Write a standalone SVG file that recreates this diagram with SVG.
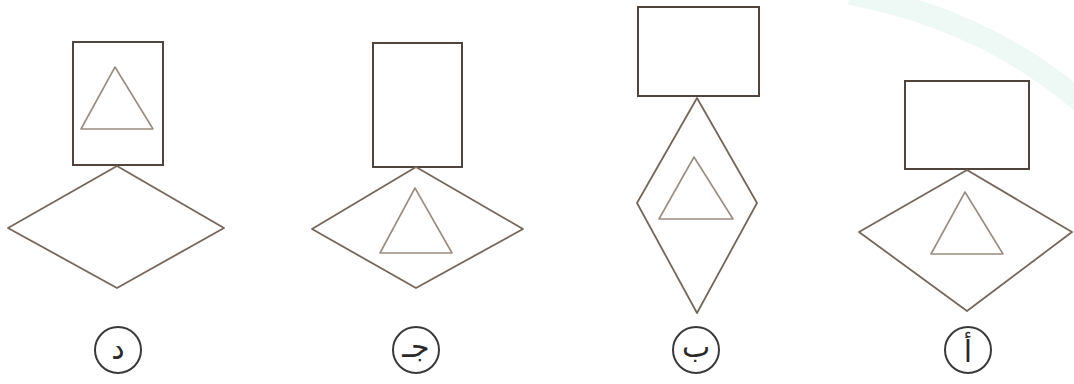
<svg xmlns="http://www.w3.org/2000/svg" width="1074" height="384" viewBox="0 0 1074 384">
<style>
.rect{fill:none;stroke:#4f453c;stroke-width:2}
.dia{fill:none;stroke:#75675a;stroke-width:1.8;stroke-linejoin:round}
.tri{fill:none;stroke:#9a8c7e;stroke-width:1.6;stroke-linejoin:round}
.lab circle{fill:none;stroke:#3a3a3a;stroke-width:2}
.lab text{font-family:"DejaVu Sans",sans-serif;font-size:30px;fill:#2a2a2a;text-anchor:middle}
.wm{fill:none;stroke:#eef8f4;stroke-width:22}
</style>
<rect width="1074" height="384" fill="#ffffff"/>
<path class="wm" d="M850,-6 Q990,20 1090,110"/>
<g id="option-d">
<rect class="rect" x="73" y="42" width="90" height="123"/>
<polygon class="tri" points="115,67 81,129 153,129"/>
<polygon class="dia" points="117,166 224,228 117,288 8,228"/>
<g class="lab"><circle cx="118" cy="350" r="23"/><text x="118" y="359">د</text></g>
</g>
<g id="option-j">
<rect class="rect" x="373" y="43" width="89" height="124"/>
<polygon class="dia" points="416,167 523,229 416,288 312,229"/>
<polygon class="tri" points="415,188 380,253 452,253"/>
<g class="lab"><circle cx="416" cy="350" r="23"/><text x="416" y="357">جـ</text></g>
</g>
<g id="option-b">
<rect class="rect" x="638" y="7" width="121" height="89"/>
<polygon class="dia" points="697,98 757,203 697,313 637,203"/>
<polygon class="tri" points="694,157 659,219 733,219"/>
<g class="lab"><circle cx="696" cy="350" r="23"/><text x="696" y="357">ب</text></g>
</g>
<g id="option-a">
<rect class="rect" x="905" y="81" width="124" height="88"/>
<polygon class="dia" points="967,170 1072,232 967,311 859,232"/>
<polygon class="tri" points="965,192 931,254 1003,254"/>
<g class="lab"><circle cx="968" cy="350" r="23"/><text x="968" y="362">أ</text></g>
</g>
<g id="connectors"></g>
</svg>
